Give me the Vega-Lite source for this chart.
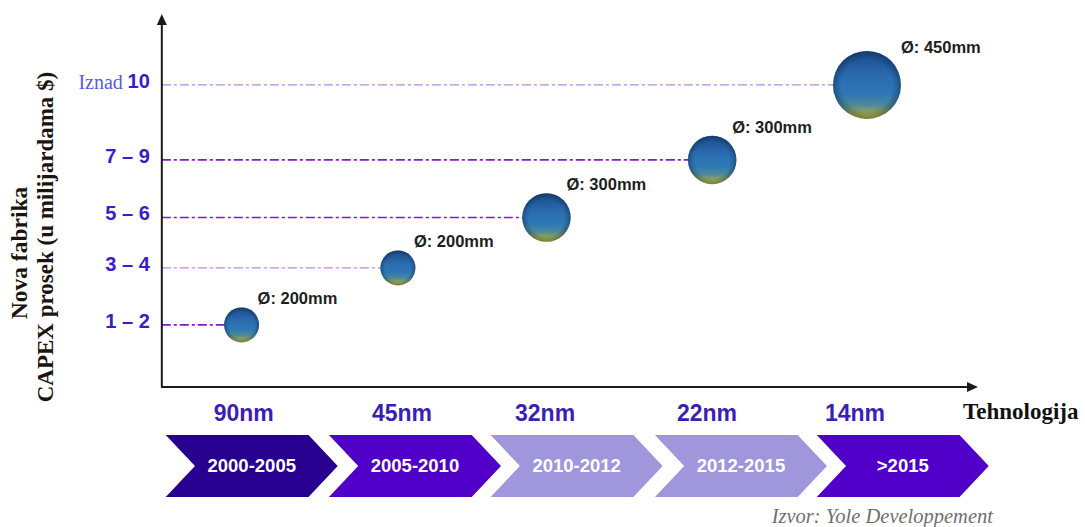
{
  "$schema": "https://vega.github.io/schema/vega-lite/v6.json",
  "width": 1085,
  "height": 527,
  "autosize": {"type": "none"},
  "padding": 0,
  "background": "white",
  "config": {"view": {"stroke": null}},
  "datasets": {
    "nodes": [
      {"tech": "90nm", "techX": 1.024, "period": "2000-2005", "periodX": 1.075, "wafer": 200, "waferLabel": "Ø: 200mm", "capex": "1 – 2", "x": 1.01, "y": 2.07},
      {"tech": "45nm", "techX": 2.036, "period": "2005-2010", "periodX": 2.119, "wafer": 200, "waferLabel": "Ø: 200mm", "capex": "3 – 4", "x": 2.01, "y": 3.97},
      {"tech": "32nm", "techX": 2.951, "period": "2010-2012", "periodX": 3.153, "wafer": 300, "waferLabel": "Ø: 300mm", "capex": "5 – 6", "x": 2.96, "y": 5.65},
      {"tech": "22nm", "techX": 3.987, "period": "2012-2015", "periodX": 4.204, "wafer": 300, "waferLabel": "Ø: 300mm", "capex": "7 – 9", "x": 4.02, "y": 7.57},
      {"tech": "14nm", "techX": 4.933, "period": ">2015", "periodX": 5.239, "wafer": 450, "waferLabel": "Ø: 450mm", "capex": "10", "prefix": "Iznad", "x": 5.01, "y": 10.07}
    ],
    "guides": [
      {"capex": "1 – 2", "from": 0.5, "to": 1.01, "y": 2.07},
      {"capex": "3 – 4", "from": 0.5, "to": 2.01, "y": 3.97},
      {"capex": "5 – 6", "from": 0.5, "to": 2.96, "y": 5.65},
      {"capex": "7 – 9", "from": 0.5, "to": 4.02, "y": 7.57},
      {"capex": "10", "from": 0.5, "to": 5.01, "y": 10.07}
    ],
    "axes": [
      {"axis": "y", "x": 0.5, "x2": 0.5, "y": 0, "y2": 12.25},
      {"axis": "x", "x": 0.495, "x2": 5.66, "y": 0, "y2": 0}
    ]
  },
  "layer": [
    {
      "data": {"name": "guides"},
      "transform": [{"filter": "datum.capex !== '3 – 4' && datum.capex !== '10'"}],
      "mark": {"type": "rule", "stroke": "#8a18c8", "strokeWidth": 1.6, "strokeDash": [9, 3, 3, 3]},
      "encoding": {
        "x": {"field": "from", "type": "quantitative", "scale": {"domain": [-0.535, 6.4045], "nice": false, "zero": false}, "axis": null},
        "x2": {"field": "to"},
        "y": {"field": "y", "type": "quantitative", "scale": {"domain": [-4.6667, 12.9], "nice": false, "zero": false}, "axis": null},
        "y2": {"field": "y"}
      }
    },
    {
      "data": {"name": "guides"},
      "transform": [{"filter": "datum.capex === '3 – 4' || datum.capex === '10'"}],
      "mark": {"type": "rule", "stroke": "#c184e8", "strokeWidth": 1.1, "strokeDash": [9, 3, 3, 3]},
      "encoding": {
        "x": {"field": "from", "type": "quantitative", "scale": {"domain": [-0.535, 6.4045], "nice": false, "zero": false}, "axis": null},
        "x2": {"field": "to"},
        "y": {"field": "y", "type": "quantitative", "scale": {"domain": [-4.6667, 12.9], "nice": false, "zero": false}, "axis": null},
        "y2": {"field": "y"}
      }
    },
    {
      "data": {"name": "axes"},
      "mark": {"type": "rule", "stroke": "#1a1a1a", "strokeWidth": 2},
      "encoding": {
        "x": {"field": "x", "type": "quantitative", "scale": {"domain": [-0.535, 6.4045], "nice": false, "zero": false}, "axis": null},
        "x2": {"field": "x2"},
        "y": {"field": "y", "type": "quantitative", "scale": {"domain": [-4.6667, 12.9], "nice": false, "zero": false}, "axis": null},
        "y2": {"field": "y2"}
      }
    },
    {
      "data": {"name": "nodes"},
      "mark": {
        "type": "point", "shape": "circle", "filled": true, "opacity": 1, "strokeWidth": 0,
        "fill": {"gradient": "linear", "x1": 0, "y1": 0, "x2": 0, "y2": 1, "stops": [
          {"offset": 0, "color": "#1b4a88"},
          {"offset": 0.38, "color": "#2a6cb0"},
          {"offset": 0.64, "color": "#2f78b4"},
          {"offset": 0.8, "color": "#4f8a98"},
          {"offset": 0.92, "color": "#9eaa50"},
          {"offset": 1, "color": "#c2bf3a"}
        ]}
      },
      "encoding": {
        "x": {"field": "x", "type": "quantitative", "scale": {"domain": [-0.535, 6.4045], "nice": false, "zero": false}, "axis": null},
        "y": {"field": "y", "type": "quantitative", "scale": {"domain": [-4.6667, 12.9], "nice": false, "zero": false}, "axis": null},
        "size": {"field": "wafer", "type": "quantitative", "scale": {"type": "linear", "domain": [200, 300, 450], "range": [1225, 2352, 4624], "zero": false, "nice": false}, "legend": null}
      }
    },
    {
      "data": {"name": "nodes"},
      "mark": {
        "type": "point", "shape": "circle", "filled": true, "opacity": 1, "strokeWidth": 0,
        "fill": {"gradient": "radial", "x1": 0.5, "y1": 0.5, "r1": 0, "x2": 0.5, "y2": 0.5, "r2": 0.5, "stops": [
          {"offset": 0, "color": "rgba(10,30,60,0)"},
          {"offset": 0.75, "color": "rgba(10,30,60,0)"},
          {"offset": 1, "color": "rgba(10,30,60,0.4)"}
        ]}
      },
      "encoding": {
        "x": {"field": "x", "type": "quantitative", "scale": {"domain": [-0.535, 6.4045], "nice": false, "zero": false}, "axis": null},
        "y": {"field": "y", "type": "quantitative", "scale": {"domain": [-4.6667, 12.9], "nice": false, "zero": false}, "axis": null},
        "size": {"field": "wafer", "type": "quantitative", "scale": {"type": "linear", "domain": [200, 300, 450], "range": [1225, 2352, 4624], "zero": false, "nice": false}, "legend": null}
      }
    },
    {
      "data": {"name": "nodes"},
      "transform": [{"filter": "datum.wafer === 200"}],
      "mark": {"type": "text", "align": "left", "baseline": "middle", "dx": 16, "dy": -26, "font": "Liberation Sans", "fontWeight": "bold", "fontSize": 16.5, "fill": "#1e1e1e"},
      "encoding": {
        "x": {"field": "x", "type": "quantitative", "scale": {"domain": [-0.535, 6.4045], "nice": false, "zero": false}, "axis": null},
        "y": {"field": "y", "type": "quantitative", "scale": {"domain": [-4.6667, 12.9], "nice": false, "zero": false}, "axis": null},
        "text": {"field": "waferLabel"}
      }
    },
    {
      "data": {"name": "nodes"},
      "transform": [{"filter": "datum.wafer === 300"}],
      "mark": {"type": "text", "align": "left", "baseline": "middle", "dx": 20, "dy": -32, "font": "Liberation Sans", "fontWeight": "bold", "fontSize": 16.5, "fill": "#1e1e1e"},
      "encoding": {
        "x": {"field": "x", "type": "quantitative", "scale": {"domain": [-0.535, 6.4045], "nice": false, "zero": false}, "axis": null},
        "y": {"field": "y", "type": "quantitative", "scale": {"domain": [-4.6667, 12.9], "nice": false, "zero": false}, "axis": null},
        "text": {"field": "waferLabel"}
      }
    },
    {
      "data": {"name": "nodes"},
      "transform": [{"filter": "datum.wafer === 450"}],
      "mark": {"type": "text", "align": "left", "baseline": "middle", "dx": 34, "dy": -37, "font": "Liberation Sans", "fontWeight": "bold", "fontSize": 16.5, "fill": "#1e1e1e"},
      "encoding": {
        "x": {"field": "x", "type": "quantitative", "scale": {"domain": [-0.535, 6.4045], "nice": false, "zero": false}, "axis": null},
        "y": {"field": "y", "type": "quantitative", "scale": {"domain": [-4.6667, 12.9], "nice": false, "zero": false}, "axis": null},
        "text": {"field": "waferLabel"}
      }
    },
    {
      "data": {"name": "nodes"},
      "mark": {"type": "text", "align": "right", "baseline": "middle", "dx": -12, "dy": -3, "font": "Liberation Sans", "fontWeight": "bold", "fontSize": 20, "fill": "#3a1cc8"},
      "encoding": {
        "x": {"datum": 0.5, "type": "quantitative", "scale": {"domain": [-0.535, 6.4045], "nice": false, "zero": false}, "axis": null},
        "y": {"field": "y", "type": "quantitative", "scale": {"domain": [-4.6667, 12.9], "nice": false, "zero": false}, "axis": null},
        "text": {"field": "capex"}
      }
    },
    {
      "data": {"name": "nodes"},
      "transform": [{"filter": "isValid(datum.prefix)"}],
      "mark": {"type": "text", "align": "right", "baseline": "middle", "dx": -39, "dy": -2, "font": "Liberation Serif", "fontSize": 20, "fill": "#5a5ae0"},
      "encoding": {
        "x": {"datum": 0.5, "type": "quantitative", "scale": {"domain": [-0.535, 6.4045], "nice": false, "zero": false}, "axis": null},
        "y": {"field": "y", "type": "quantitative", "scale": {"domain": [-4.6667, 12.9], "nice": false, "zero": false}, "axis": null},
        "text": {"field": "prefix"}
      }
    },
    {
      "data": {"name": "nodes"},
      "mark": {"type": "text", "align": "center", "baseline": "middle", "font": "Liberation Sans", "fontWeight": "bold", "fontSize": 23, "fill": "#3b1fb5"},
      "encoding": {
        "x": {"field": "techX", "type": "quantitative", "scale": {"domain": [-0.535, 6.4045], "nice": false, "zero": false}, "axis": null},
        "y": {"datum": -0.9, "type": "quantitative", "scale": {"domain": [-4.6667, 12.9], "nice": false, "zero": false}, "axis": null},
        "text": {"field": "tech"}
      }
    },
    {
      "data": {"name": "nodes"},
      "mark": {"type": "point", "shape": "M-1,-0.36L0.66,-0.36L1,0L0.66,0.36L-1,0.36L-0.66,0Z", "size": 29584, "filled": true, "opacity": 1, "strokeWidth": 0},
      "encoding": {
        "x": {"field": "periodX", "type": "quantitative", "scale": {"domain": [-0.535, 6.4045], "nice": false, "zero": false}, "axis": null},
        "y": {"datum": -2.633, "type": "quantitative", "scale": {"domain": [-4.6667, 12.9], "nice": false, "zero": false}, "axis": null},
        "fill": {"field": "period", "type": "nominal", "scale": {"domain": ["2000-2005", "2005-2010", "2010-2012", "2012-2015", ">2015"], "range": ["#280090", "#5000c8", "#a096dc", "#a096dc", "#5000c8"]}, "legend": null}
      }
    },
    {
      "data": {"name": "nodes"},
      "mark": {"type": "text", "align": "center", "baseline": "middle", "font": "Liberation Sans", "fontWeight": "bold", "fontSize": 18.5, "fill": "#ffffff"},
      "encoding": {
        "x": {"field": "periodX", "type": "quantitative", "scale": {"domain": [-0.535, 6.4045], "nice": false, "zero": false}, "axis": null},
        "y": {"datum": -2.633, "type": "quantitative", "scale": {"domain": [-4.6667, 12.9], "nice": false, "zero": false}, "axis": null},
        "text": {"field": "period"}
      }
    },
    {
      "data": {"values": [{"axis": "y"}]},
      "mark": {"type": "point", "shape": "M0,0L0.5,1.1L-0.5,1.1Z", "size": 400, "filled": true, "opacity": 1, "fill": "#1a1a1a", "strokeWidth": 0},
      "encoding": {
        "x": {"datum": 0.5, "type": "quantitative", "scale": {"domain": [-0.535, 6.4045], "nice": false, "zero": false}, "axis": null},
        "y": {"datum": 12.433, "type": "quantitative", "scale": {"domain": [-4.6667, 12.9], "nice": false, "zero": false}, "axis": null}
      }
    },
    {
      "data": {"values": [{"axis": "x"}]},
      "mark": {"type": "point", "shape": "M0,0L-1.1,-0.5L-1.1,0.5Z", "size": 400, "filled": true, "opacity": 1, "fill": "#1a1a1a", "strokeWidth": 0},
      "encoding": {
        "x": {"datum": 5.72, "type": "quantitative", "scale": {"domain": [-0.535, 6.4045], "nice": false, "zero": false}, "axis": null},
        "y": {"datum": 0, "type": "quantitative", "scale": {"domain": [-4.6667, 12.9], "nice": false, "zero": false}, "axis": null}
      }
    },
    {
      "data": {"values": [{"label": "Tehnologija"}]},
      "mark": {"type": "text", "align": "left", "baseline": "alphabetic", "font": "Liberation Serif", "fontWeight": "bold", "fontSize": 23, "fill": "#111111"},
      "encoding": {
        "x": {"datum": 5.624, "type": "quantitative", "scale": {"domain": [-0.535, 6.4045], "nice": false, "zero": false}, "axis": null},
        "y": {"datum": -1.067, "type": "quantitative", "scale": {"domain": [-4.6667, 12.9], "nice": false, "zero": false}, "axis": null},
        "text": {"field": "label"}
      }
    },
    {
      "data": {"values": [{"label": "Izvor: Yole Developpement"}]},
      "mark": {"type": "text", "align": "right", "baseline": "middle", "font": "Liberation Serif", "fontStyle": "italic", "fontSize": 20.5, "fill": "#707070"},
      "encoding": {
        "x": {"datum": 5.816, "type": "quantitative", "scale": {"domain": [-0.535, 6.4045], "nice": false, "zero": false}, "axis": null},
        "y": {"datum": -4.323, "type": "quantitative", "scale": {"domain": [-4.6667, 12.9], "nice": false, "zero": false}, "axis": null},
        "text": {"field": "label"}
      }
    },
    {
      "data": {"values": [{"label": "Nova fabrika"}]},
      "mark": {"type": "text", "align": "center", "baseline": "middle", "angle": 270, "font": "Liberation Serif", "fontWeight": "bold", "fontSize": 23.5, "fill": "#1c1410"},
      "encoding": {
        "x": {"datum": -0.407, "type": "quantitative", "scale": {"domain": [-0.535, 6.4045], "nice": false, "zero": false}, "axis": null},
        "y": {"datum": 4.467, "type": "quantitative", "scale": {"domain": [-4.6667, 12.9], "nice": false, "zero": false}, "axis": null},
        "text": {"field": "label"}
      }
    },
    {
      "data": {"values": [{"label": "CAPEX prosek (u milijardama $)"}]},
      "mark": {"type": "text", "align": "center", "baseline": "middle", "angle": 270, "font": "Liberation Serif", "fontWeight": "bold", "fontSize": 23, "fill": "#1c1410"},
      "encoding": {
        "x": {"datum": -0.241, "type": "quantitative", "scale": {"domain": [-0.535, 6.4045], "nice": false, "zero": false}, "axis": null},
        "y": {"datum": 5.0, "type": "quantitative", "scale": {"domain": [-4.6667, 12.9], "nice": false, "zero": false}, "axis": null},
        "text": {"field": "label"}
      }
    }
  ]
}
